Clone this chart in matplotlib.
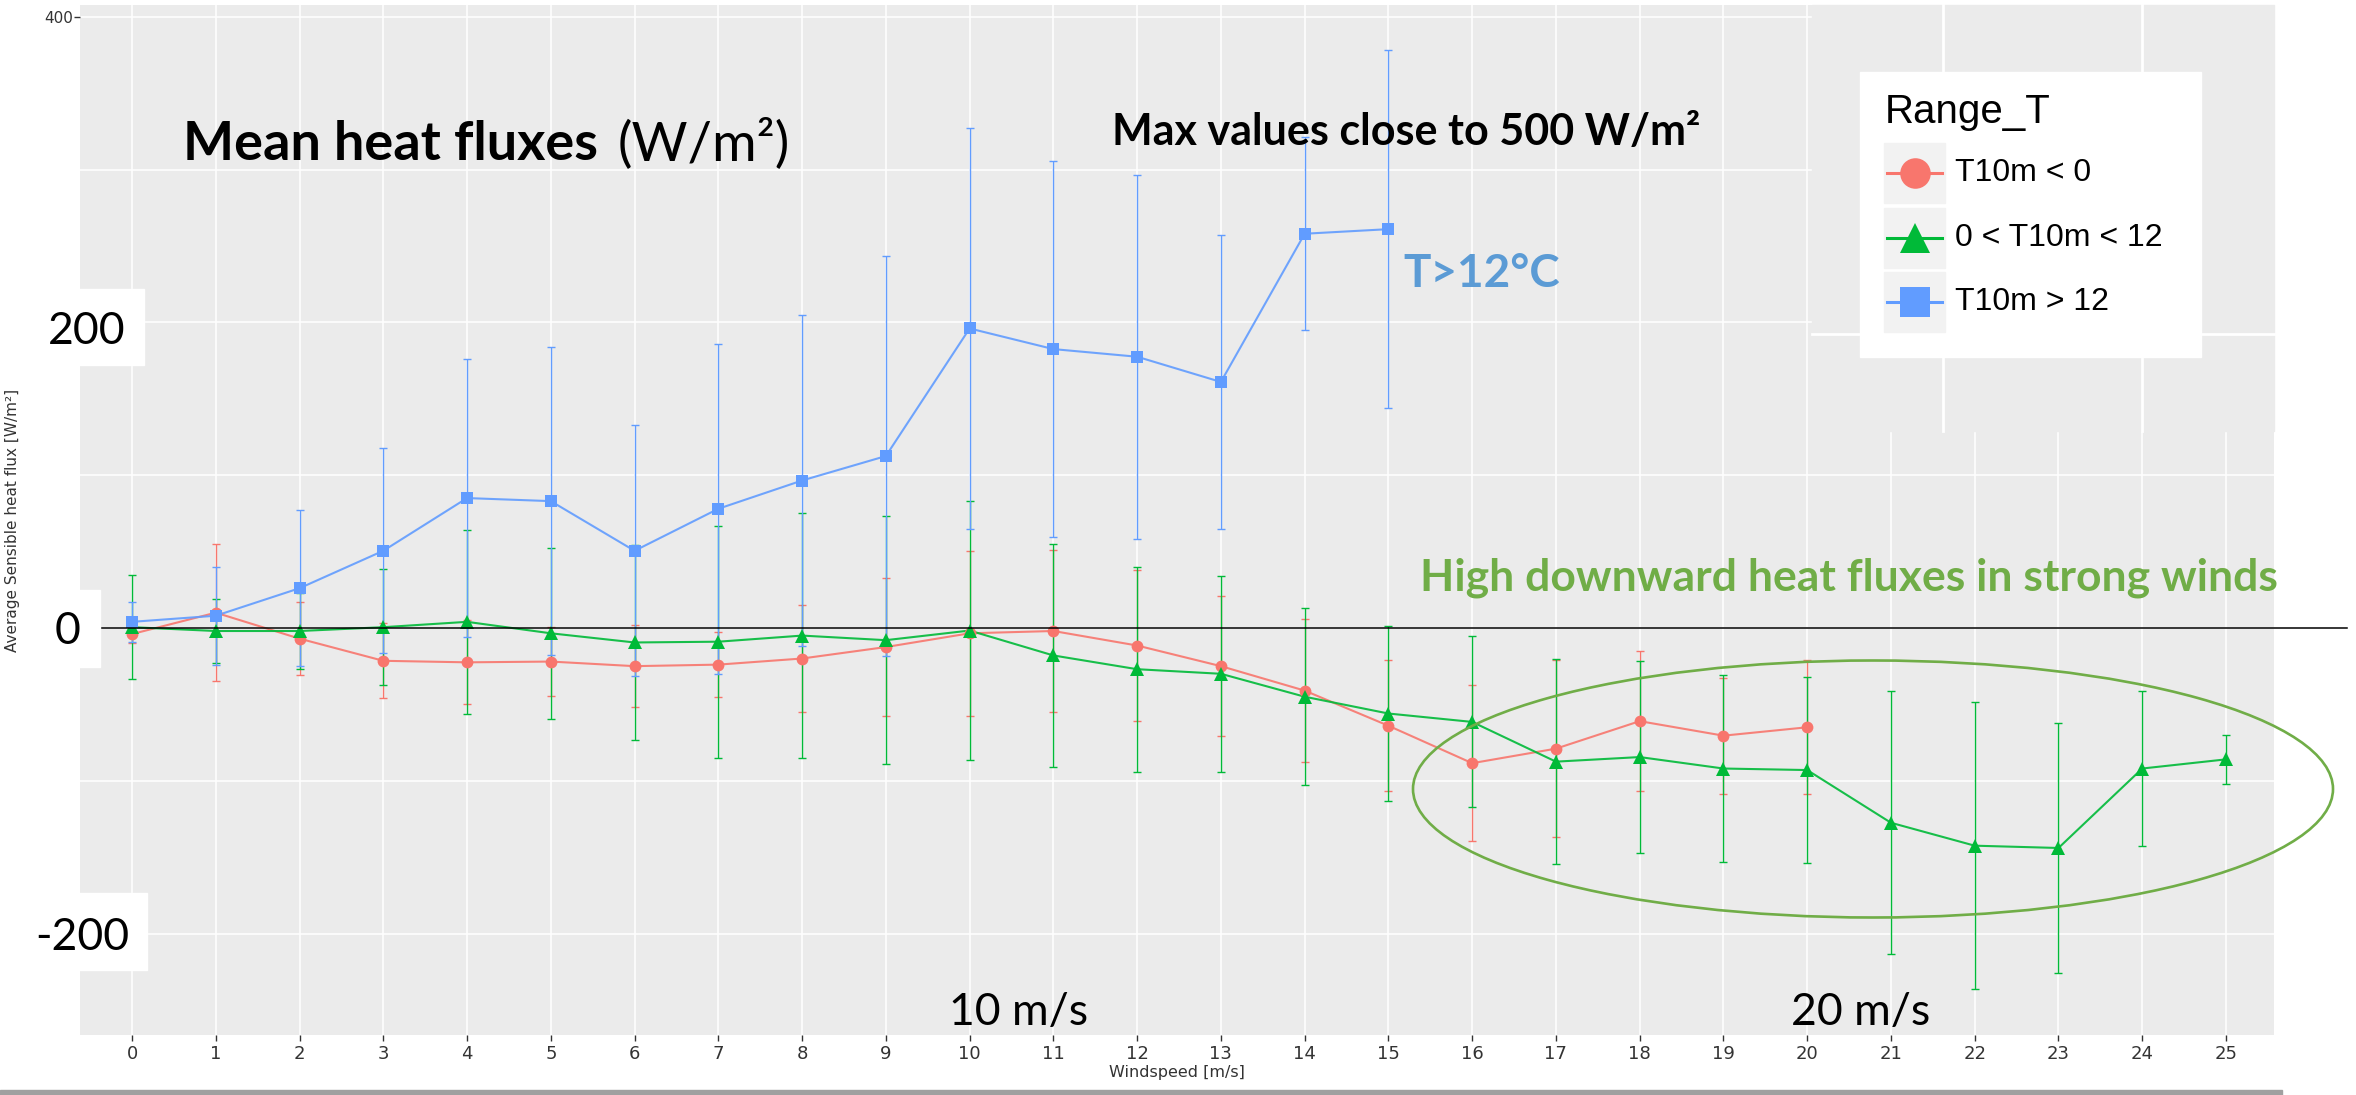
import numpy as np
import matplotlib.pyplot as plt
from matplotlib.patches import Rectangle, Ellipse
from matplotlib.lines import Line2D
from matplotlib.ticker import FixedLocator
from matplotlib import transforms

W, H = 2356, 1095

# windspeed classes [m/s]
wind = np.arange(26)
wind_labels = [str(w) for w in wind]

# mean sensible heat flux and std per temperature range
red_x = wind[:21]
red_mean = [-4, 10, -7, -21.5, -22.5, -22, -25, -24, -20, -12.5, -3.5,
            -2, -11.5, -25, -41, -64, -88.5, -79, -61, -70.5, -65]
red_sd = [6, 45, 24, 24.5, 27.5, 22.5, 27, 21.5, 35, 45, 54,
          53, 49.5, 46, 47, 43, 51, 58, 46, 38, 44]

green_x = wind
green_mean = [0.5, -2, -2, 0.5, 4, -3.5, -9.5, -9, -5, -8, -1.7,
              -18, -27, -30, -45, -56, -61.5, -87.5, -84.5, -92, -93,
              -127.5, -142.5, -144, -92, -86]
green_sd = [34, 21, 25, 38, 60, 56, 64, 76, 80, 81, 85,
            73, 67, 64, 58, 57, 56, 67, 63, 61, 61,
            86, 94, 82, 51, 16]

blue_x = wind[:16]
blue_mean = [4, 8, 26, 50.5, 85, 83, 50.5, 78, 96.5, 112.5, 196,
             182.5, 177.5, 161, 258, 261]
blue_sd = [13, 32, 51, 67, 91, 101, 82, 108, 108, 131, 131,
           123, 119, 96, 63, 117]

y_ticks = [-200, 0, 200, 400]
y_ticklabels = ['', '', '', '400']   # the others sit under the big boxed labels
big_labels = ['200', '0', '-200']

range_labels = ['T10m < 0', '0 < T10m < 12', 'T10m > 12']
colors = ['#F8766D', '#00BA38', '#619CFF']
markers = ['o', '^', 's']
msizes = [8.5, 9.8, 8.5]

narrow = ['Liberation Sans Narrow', 'DejaVu Sans']
calibri = ['Lato', 'DejaVu Sans']


def fx(x):
    return x / W


def fy(y):
    return 1 - y / H


fig = plt.figure(figsize=(W / 100, H / 100), dpi=100)
fig.patch.set_facecolor('white')
ax = fig.add_axes([fx(80), fy(1035), (2274 - 80) / W, (1035 - 5) / H])
ax.set_facecolor('#EBEBEB')
for s in ['top', 'left', 'bottom', 'right']:
    ax.spines[s].set_visible(False)

series = [(red_x, red_mean, red_sd), (green_x, green_mean, green_sd),
          (blue_x, blue_mean, blue_sd)]
for (xs, m, sd), col in zip(series, colors):
    ax.errorbar(xs, m, yerr=sd, fmt='none', ecolor=col, elinewidth=1.0,
                capsize=3.2, capthick=1.0, zorder=2)
for (xs, m, sd), col, mk, ms in zip(series, colors, markers, msizes):
    ax.plot(xs, m, color=col, lw=1.5, alpha=0.9, zorder=3)
    ax.plot(xs, m, ls='none', marker=mk, ms=ms, color=col, mew=0, zorder=4)

ax.set_xlim(-0.621, 25.573)
ax.set_ylim(-266.4, 407.7)
ax.set_xticks(wind)
ax.set_xticklabels(wind_labels)
ax.set_yticks(y_ticks)
ax.set_yticklabels(y_ticklabels)
ax.yaxis.set_minor_locator(FixedLocator([-100, 100, 300]))
ax.set_axisbelow(True)
ax.grid(axis='x', which='major', color='white', lw=1.1)
ax.grid(axis='y', which='both', color='white', lw=1.1)
ax.tick_params(which='major', length=4, width=1, color='#333333',
               labelcolor='#333333')
ax.tick_params(which='minor', length=0)
ax.tick_params(axis='x', labelsize=13, pad=3.5)
ax.tick_params(axis='y', labelsize=11, pad=1)
for lab in ax.get_xticklabels() + ax.get_yticklabels():
    lab.set_family(narrow)

ax.set_xlabel('Windspeed [m/s]', fontsize=11.5, family=narrow,
              color='#333333', va='center')
ax.xaxis.set_label_coords(0.5, (1035 - 1073) / 1030)
ax.set_ylabel('Average Sensible heat flux [W/m²]', fontsize=11,
              family=narrow, color='#333333', va='center')
ax.yaxis.set_label_coords((12.5 - 80) / 2194, 0.5)

# pasted patch in top right corner
fig.add_artist(Rectangle((fx(1812), fy(431)), (2274 - 1812) / W, (431 - 5) / H,
                         transform=fig.transFigure, color='#EBEBEB', zorder=1))
for xv in [1943, 2142]:
    fig.add_artist(Line2D([fx(xv), fx(xv)], [fy(431), fy(5)], color='white',
                          lw=2, zorder=1.1))
fig.add_artist(Line2D([fx(1812), fx(2274)], [fy(334), fy(334)], color='white',
                      lw=2, zorder=1.1))

# zero line
blend = transforms.blended_transform_factory(fig.transFigure, ax.transData)
fig.add_artist(Line2D([fx(100), fx(2347)], [0, 0], transform=blend,
                      color='black', lw=1.1, zorder=2))

# big y labels in white boxes
boxes = [(30, 289, 144, 365), (30, 590, 100, 667), (30, 893, 147, 970)]
centers = [(87, 328), (68, 628), (82, 933)]
for txt, (x0, y0, x1, y1), (cx, cy) in zip(big_labels, boxes, centers):
    fig.add_artist(Rectangle((fx(x0), fy(y1)), (x1 - x0) / W, (y1 - y0) / H,
                             transform=fig.transFigure, color='white', zorder=5))
    fig.text(fx(cx), fy(cy), txt, fontsize=32, family=calibri, ha='center',
             va='center_baseline', zorder=6)

# annotations
fig.text(fx(183), fy(160), 'Mean heat fluxes', fontsize=39, weight='bold',
         family=calibri, va='baseline')
fig.text(fx(618), fy(160), '(W/m²)', fontsize=39, family=calibri, va='baseline')
fig.text(fx(1112), fy(145), 'Max values close to 500 W/m²', fontsize=31,
         weight='bold', family=calibri, va='baseline')
fig.text(fx(1403), fy(287), 'T>12°C', fontsize=33, weight='bold',
         family=calibri, color='#5B9BD5', va='baseline')
fig.text(fx(1420), fy(590), 'High downward heat fluxes in strong winds',
         fontsize=32, weight='bold', family=calibri, color='#70AD47',
         va='baseline')
fig.text(fx(949), fy(1025), '10 m/s', fontsize=32, family=calibri, va='baseline')
fig.text(fx(1791), fy(1025), '20 m/s', fontsize=32, family=calibri, va='baseline')

fig.add_artist(Ellipse((fx(1873), fy(789)), 920 / W, 257 / H,
                       transform=fig.transFigure, fill=False,
                       edgecolor='#70AD47', lw=1.9, zorder=3))

# legend
fig.add_artist(Rectangle((fx(1860), fy(357)), (2201 - 1860) / W, (357 - 72) / H,
                         transform=fig.transFigure, color='white', zorder=7))
fig.text(fx(1885), fy(123), 'Range_T', fontsize=29, family='Liberation Sans',
         va='baseline', zorder=8)
for i, (lab, col, mk) in enumerate(zip(range_labels, colors, markers)):
    y0 = 143 + i * 64.5
    yc = y0 + 30
    fig.add_artist(Rectangle((fx(1884), fy(y0 + 60)), 61 / W, 60 / H,
                             transform=fig.transFigure, color='#F2F2F2',
                             zorder=8))
    fig.add_artist(Line2D([fx(1887), fx(1942)], [fy(yc), fy(yc)], color=col,
                          lw=2.2, zorder=9))
    fig.add_artist(Line2D([fx(1914.5)], [fy(yc)], marker=mk, ms=22, mew=0,
                          color=col, zorder=10))
    fig.text(fx(1955), fy(yc), lab, fontsize=23, family='Liberation Sans',
             va='center', zorder=9)

# bottom border of screenshot
fig.add_artist(Rectangle((0, 0), 2282 / W, 5 / H, transform=fig.transFigure,
                         color='#A0A0A0', zorder=1))

fig.savefig('out.png', dpi=100)
